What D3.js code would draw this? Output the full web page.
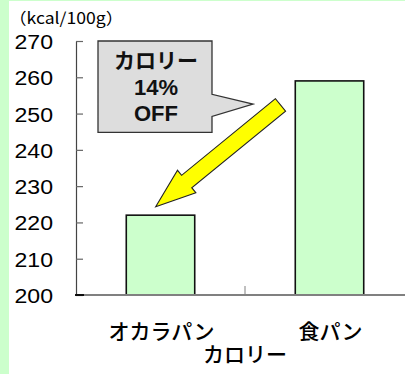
<!DOCTYPE html>
<html><head><meta charset="utf-8">
<script src="https://cdn.jsdelivr.net/npm/d3@7"></script>
<style>
html,body{margin:0;padding:0;background:#fff;}
svg{display:block;}
</style></head>
<body>
<script>
const categories = ["オカラパン", "食パン"];
const values = [222, 259];
const yTicks = [200, 210, 220, 230, 240, 250, 260, 270];
const yUnit = "（kcal/100g）";
const xTitle = "カロリー";
const calloutLines = ["カロリー", "14%", "OFF"];

const W = 405, H = 374;
const svg = d3.select("body").append("svg").attr("width", W).attr("height", H);

svg.append("rect").attr("width", W).attr("height", H).attr("fill", "#ccffcc");
svg.append("rect").attr("x", 9).attr("y", 1).attr("width", W - 9).attr("height", H - 1).attr("fill", "#fff");

const y = d3.scaleLinear().domain([200, 270]).range([295, 41]);
const x = d3.scaleBand().domain(categories).range([76, 414]);
const barW = x.bandwidth() * 0.405;
const jp = "'Noto Sans CJK JP', sans-serif";
const lat = "'Liberation Sans', Arial, sans-serif";

// unit label
svg.append("text").attr("transform", "translate(9,24) scale(1.1,1)")
  .attr("font-family", jp).attr("font-size", 16).attr("fill", "#000").text(yUnit);

// y axis
const yAxis = svg.append("g").attr("transform", "translate(76,0)")
  .call(d3.axisLeft(y).tickValues(yTicks).tickSize(-7).tickSizeOuter(0).tickFormat(d3.format("d")));
yAxis.select(".domain").attr("stroke", "#444").attr("stroke-width", 1.2);
yAxis.selectAll(".tick line").attr("stroke", "#666").attr("stroke-width", 1.2);
yAxis.selectAll(".tick text")
  .attr("x", null).attr("dy", "0.36em")
  .attr("transform", "translate(-23,0) scale(1.1,1)")
  .attr("font-family", lat).attr("font-size", 21).attr("font-weight", "normal").attr("fill", "#000");

// bars
svg.append("g").selectAll("rect").data(values).join("rect")
  .attr("x", (d, i) => x(categories[i]) + (x.bandwidth() - barW) / 2)
  .attr("y", d => y(d))
  .attr("width", barW)
  .attr("height", d => y(200) - y(d))
  .attr("fill", "#ccffcc").attr("stroke", "#111").attr("stroke-width", 1.6);

// x axis
const xAxis = svg.append("g").attr("transform", `translate(0,${y(200)})`);
xAxis.append("line").attr("x1", 76).attr("x2", W).attr("stroke", "#808080").attr("stroke-width", 1.8);
xAxis.append("line").attr("x1", 75).attr("x2", 84).attr("stroke", "#000").attr("stroke-width", 1.8);
categories.slice(1).forEach(c => {
  xAxis.append("line").attr("x1", x(c)).attr("x2", x(c)).attr("y1", 0).attr("y2", -9)
    .attr("stroke", "#808080").attr("stroke-width", 1);
});
xAxis.selectAll("text.cat").data(categories).join("text").attr("class", "cat")
  .attr("x", d => x(d) + x.bandwidth() / 2 + 1)
  .attr("y", 44)
  .attr("text-anchor", "middle").attr("font-family", jp).attr("font-size", 21)
  .attr("font-weight", 500).attr("fill", "#000")
  .text(d => d);
svg.append("text").attr("x", x(categories[1])).attr("y", 362)
  .attr("text-anchor", "middle").attr("font-family", jp).attr("font-size", 21)
  .attr("font-weight", 500).attr("fill", "#000")
  .text(xTitle);

// callout box with pointer
const bx0 = 98, bx1 = 212, by0 = y(270), by1 = y(244.8);
const tipX = x(categories[1]) + 8, tipY = y(252.6);
const calloutPath = [
  [bx0, by0], [bx1, by0], [bx1, y(255.3)], [tipX, tipY], [bx1, y(249.2)], [bx1, by1], [bx0, by1]
];
svg.append("path").attr("d", d3.line()(calloutPath) + "Z")
  .attr("fill", "#dddddd").attr("stroke", "#333").attr("stroke-width", 1.3);
svg.append("g").selectAll("text").data(calloutLines).join("text")
  .attr("x", (bx0 + bx1) / 2 + 1)
  .attr("y", (d, i) => 68 + i * 26.5)
  .attr("text-anchor", "middle")
  .attr("font-family", (d, i) => i === 0 ? jp : lat)
  .attr("font-size", (d, i) => i === 0 ? 21 : 22)
  .attr("font-weight", "bold").attr("fill", "#111")
  .text(d => d);

// yellow arrow
function arrowPoly(p0, p1, sw, hw, hl) {
  const dx = p1[0] - p0[0], dy = p1[1] - p0[1];
  const L = Math.hypot(dx, dy), ux = dx / L, uy = dy / L, px = -uy, py = ux;
  const b = [p1[0] - ux * hl, p1[1] - uy * hl];
  const pt = (c, s) => [c[0] + px * s, c[1] + py * s];
  return [pt(p0, sw / 2), pt(b, sw / 2), pt(b, hw / 2), p1, pt(b, -hw / 2), pt(b, -sw / 2), pt(p0, -sw / 2)];
}
const arrowFrom = [x(categories[1]) + 35.5, y(252.4)];
const arrowTo = [x(categories[0]) + 79.7, y(224.3)];
svg.append("path").attr("d", d3.line()(arrowPoly(arrowFrom, arrowTo, 16, 29, 40)) + "Z")
  .attr("fill", "#ffff00").attr("stroke", "#222").attr("stroke-width", 1.1).attr("stroke-linejoin", "miter");
</script>
</body></html>
